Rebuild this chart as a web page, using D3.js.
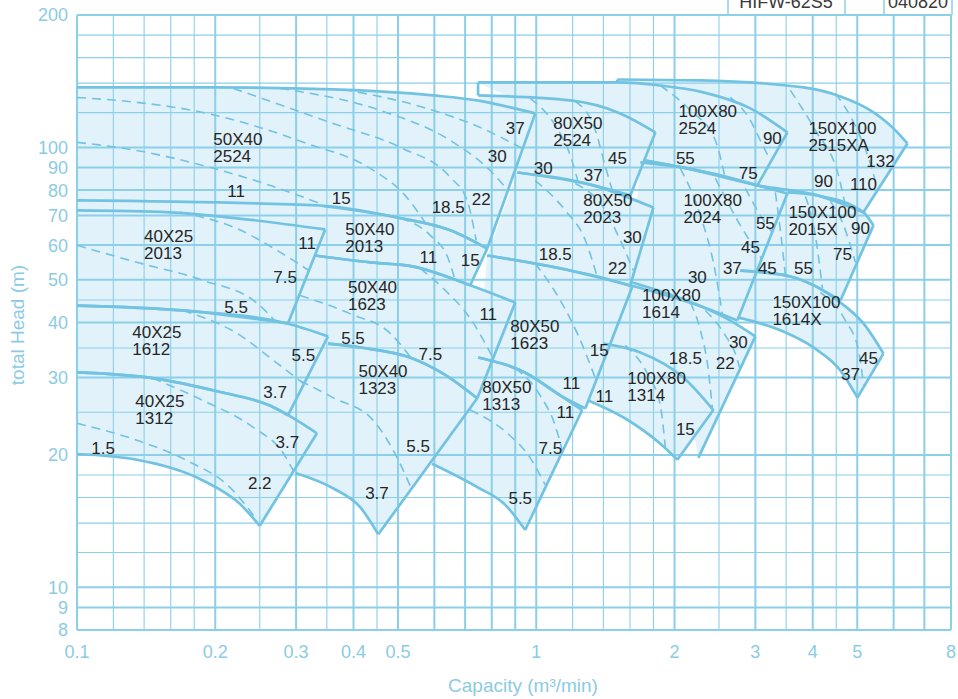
<!DOCTYPE html>
<html>
<head>
<meta charset="utf-8">
<script src="https://cdn.jsdelivr.net/npm/d3@7"></script>
<style>
  body { margin: 0; background: #fff; }
  svg text { font-family: "Liberation Sans", Arial, sans-serif; }
</style>
</head>
<body>
<svg id="canvas" width="958" height="699"></svg>
<script>
// axes
let xGrid = [0.1, 0.12, 0.14, 0.16, 0.18, 0.2, 0.25, 0.3, 0.35, 0.4, 0.45, 0.5, 0.6, 0.7, 0.8, 0.9, 1, 1.2, 1.4, 1.6, 1.8, 2, 2.5, 3, 3.5, 4, 4.5, 5, 6, 7, 8]
let yGrid = [8, 9, 10, 12, 14, 16, 18, 20, 25, 30, 35, 40, 45, 50, 60, 70, 80, 90, 100, 120, 140, 160, 180, 200]
let xTicks = [0.1, 0.2, 0.3, 0.4, 0.5, 1, 2, 3, 4, 5, 8]
let yTicks = [8, 9, 10, 20, 30, 40, 50, 60, 70, 80, 90, 100, 200]
let xMajor = [0.1, 0.2, 0.3, 0.4, 0.5, 0.6, 0.7, 0.8, 0.9, 1, 2, 3, 4, 5, 6, 7, 8]

// pump models, one entry per tile
let models = [
  ["40X25", "1312"], ["40X25", "1612"], ["40X25", "2013"],
  ["50X40", "1323"], ["50X40", "1623"], ["50X40", "2013"], ["50X40", "2524"],
  ["80X50", "1313"], ["80X50", "1623"], ["80X50", "2023"], ["80X50", "2524"],
  ["100X80", "2524"], ["150X100", "2515XA"], ["100X80", "2024"],
  ["150X100", "2015X"], ["150X100", "1614X"], ["100X80", "1614"], ["100X80", "1314"]
]

// [capacity m3/min, head m] at top of each name label
let modelSpots = [
  [0.134, 26.6], [0.132, 38.0], [0.14, 62.8],
  [0.41, 31.1], [0.389, 48.1], [0.384, 65.4], [0.198, 104.8],
  [0.763, 28.5], [0.878, 39.2], [1.266, 75.8], [1.089, 114.0],
  [2.04, 121.4], [3.914, 111.0], [2.091, 75.8],
  [3.54, 71.5], [3.267, 44.6], [1.7, 46.3], [1.579, 30.0]
]

// max impeller curves
let tops = [
  [[0.1, 30.8], [0.146, 29.9], [0.205, 27.8], [0.263, 25.9], [0.333, 22.4]],
  [[0.1, 43.7], [0.17, 42.6], [0.287, 39.8], [0.352, 37.2]],
  [[0.1, 71.9], [0.159, 71.2], [0.223, 69.0], [0.347, 65.1]],
  [[0.352, 35.8], [0.414, 35.1], [0.531, 33.3], [0.627, 30.6], [0.744, 26.9]],
  [[0.33, 56.8], [0.435, 54.8], [0.54, 53.6], [0.718, 48.6], [0.9, 44.4]],
  [[0.342, 73.6], [0.498, 69.3], [0.65, 64.8], [0.782, 58.9]],
  [[0.1, 136.9], [0.198, 136.9], [0.361, 135.5], [0.596, 131.3], [0.744, 127.9], [0.878, 123.3], [0.995, 119.5]],
  [[0.747, 33.3], [0.956, 30.6], [1.128, 27.3], [1.259, 25.3]],
  [[0.782, 56.8], [1.128, 53.1], [1.379, 50.7], [1.619, 48.3]],
  [[0.909, 87.7], [1.331, 82.0], [1.799, 73.0]],
  [[0.747, 131.3], [1.186, 127.9], [1.524, 119.5], [1.817, 108.2]],
  [[0.747, 140.5], [1.502, 140.5], [1.863, 138.3], [2.312, 133.4], [2.926, 122.7], [3.522, 108.2]],
  [[1.502, 142.7], [2.277, 142.0], [3.817, 136.9], [4.596, 130.6], [5.342, 121.4], [5.995, 110.5], [6.43, 102.1]],
  [[1.685, 92.5], [2.091, 90.0], [3.03, 82.0], [3.522, 78.6]],
  [[3.522, 79.0], [4.094, 77.8], [5.158, 71.2], [5.423, 66.5]],
  [[2.783, 52.5], [3.576, 50.9], [4.596, 44.4], [5.158, 39.8], [5.702, 34.0]],
  [[1.619, 49.3], [1.958, 46.3], [2.312, 43.3], [2.646, 40.4], [3.0, 37.2]],
  [[1.4, 35.8], [1.685, 34.2], [2.091, 30.0], [2.43, 25.3]]
]

// min impeller curves
let bottoms = [
  [[0.1, 20.1], [0.135, 19.5], [0.188, 17.5], [0.226, 15.5], [0.25, 13.8]],
  [[0.1, 30.8], [0.146, 29.9], [0.205, 27.8], [0.263, 25.9], [0.288, 24.6]],
  [[0.1, 43.7], [0.17, 42.6], [0.288, 39.8]],
  [[0.299, 18.2], [0.361, 16.8], [0.414, 15.2], [0.453, 13.2]],
  [[0.352, 35.8], [0.414, 35.1], [0.531, 33.3], [0.627, 30.6], [0.744, 26.9]],
  [[0.33, 56.8], [0.435, 54.8], [0.54, 53.6], [0.718, 48.6]],
  [[0.1, 75.8], [0.338, 73.8], [0.498, 69.3], [0.65, 64.8], [0.782, 58.9]],
  [[0.593, 19.1], [0.744, 16.9], [0.856, 15.4], [0.946, 13.5]],
  [[0.747, 33.3], [0.956, 30.6], [1.128, 27.3], [1.279, 25.5]],
  [[0.782, 56.8], [1.128, 53.1], [1.602, 48.6]],
  [[0.909, 87.7], [1.331, 82.0], [1.602, 77.8]],
  [[1.728, 93.4], [2.091, 90.0], [2.517, 86.4], [3.03, 82.0]],
  [[1.728, 93.4], [2.091, 90.0], [3.03, 82.0], [4.094, 77.8], [5.158, 71.2]],
  [[1.602, 48.6], [2.312, 43.3], [2.741, 40.4]],
  [[2.783, 52.5], [3.576, 50.9], [4.596, 44.9]],
  [[2.741, 41.1], [3.401, 38.4], [4.013, 35.1], [4.596, 31.1], [5.005, 27.0]],
  [[1.4, 35.8], [1.863, 29.5], [2.166, 24.0], [2.254, 19.7]],
  [[1.298, 26.6], [1.563, 24.2], [1.863, 21.2], [2.029, 19.5]]
]
let hiddenBottoms = [16]

// extra corner points that close a tile against its neighbours [tile, points]
let leftSides = [
  [3, [[0.288, 24.6], [0.352, 37.2]]],
  [4, [[0.288, 39.8]]],
  [5, [[0.1, 71.9], [0.1, 75.8]]]
]

// motor power limits
let dashes = [
  [[[0.1, 23.6], [0.135, 21.6], [0.174, 19.4], [0.215, 16.9], [0.247, 14.2]],
   [[0.146, 29.9], [0.188, 26.6], [0.242, 23.1], [0.281, 20.2], [0.296, 18.4]]],
  [[[0.17, 42.6], [0.223, 37.8], [0.273, 32.3], [0.311, 29.1]]],
  [[[0.1, 59.9], [0.135, 54.8], [0.188, 49.9], [0.247, 44.2], [0.27, 40.3]],
   [[0.168, 71.2], [0.223, 65.4], [0.273, 58.3], [0.32, 52.5]]],
  [[[0.306, 29.5], [0.361, 27.0], [0.441, 24.0], [0.498, 19.7], [0.537, 16.6]]],
  [[[0.306, 46.1], [0.393, 41.9], [0.481, 37.8], [0.531, 33.5]],
   [[0.559, 53.1], [0.634, 47.3], [0.718, 40.9], [0.802, 33.5]]],
  [[[0.506, 69.0], [0.588, 63.1], [0.643, 55.9], [0.666, 49.9]]],
  [[[0.1, 129.9], [0.135, 126.6], [0.188, 120.1], [0.242, 112.2], [0.311, 102.7], [0.435, 89.6], [0.518, 77.8], [0.573, 67.5]],
   [[0.1, 102.7], [0.135, 98.4], [0.188, 91.0], [0.263, 82.0], [0.338, 74.6]],
   [[0.219, 136.2], [0.361, 113.4], [0.506, 100.0], [0.65, 85.5], [0.707, 75.8], [0.74, 61.5]],
   [[0.277, 136.2], [0.457, 121.4], [0.65, 103.7], [0.794, 88.6], [0.869, 79.8]],
   [[0.38, 135.5], [0.559, 123.9], [0.755, 111.0], [0.932, 99.5]]],
  [[[0.718, 25.3], [0.865, 22.4], [0.97, 19.7], [1.046, 17.1]],
   [[0.9, 31.5], [1.02, 27.3], [1.1, 23.3], [1.139, 20.5]]],
  [[[0.995, 54.5], [1.128, 44.9], [1.234, 37.4], [1.351, 29.5]]],
  [[[0.995, 84.1], [1.157, 71.9], [1.279, 61.5], [1.358, 50.7]],
   [[1.216, 82.8], [1.414, 71.9], [1.524, 61.5], [1.627, 52.5]]],
  [[[0.97, 129.2], [1.1, 112.2], [1.186, 95.9], [1.234, 83.3]],
   [[1.216, 127.2], [1.345, 109.3], [1.414, 90.5], [1.464, 79.8]]],
  [[[1.863, 138.3], [2.166, 121.4], [2.455, 103.7], [2.58, 85.0]],
   [[2.646, 129.9], [2.926, 115.2], [3.076, 103.7], [3.234, 93.4]]],
  [[[3.576, 134.8], [4.053, 109.3], [4.55, 86.4], [4.712, 73.8]],
   [[4.482, 132.7], [5.005, 109.3], [5.396, 88.6], [5.533, 80.3]]],
  [[[2.059, 89.6], [2.277, 70.1], [2.455, 52.0], [2.542, 41.9]],
   [[2.455, 85.0], [2.783, 66.5], [3.092, 55.9]],
   [[2.853, 80.7], [3.076, 70.1], [3.267, 64.1]]],
  [[[3.316, 79.0], [3.401, 64.8], [3.487, 51.2]],
   [[3.855, 77.4], [4.053, 63.1], [4.199, 47.8]],
   [[4.371, 75.4], [4.642, 67.5], [4.955, 54.8]]],
  [[[4.157, 46.8], [4.712, 40.4], [5.03, 34.6], [5.158, 28.9]]],
  [[[2.166, 44.4], [2.277, 38.4], [2.37, 31.1], [2.418, 25.5]],
   [[2.335, 42.6], [2.58, 37.4], [2.727, 33.5], [2.783, 31.1]]],
  [[[1.563, 35.5], [1.754, 30.3], [1.863, 25.9], [1.91, 20.8]]]
]

// motor kW labels [capacity, head, text]
let powerLabels = [
  [0.114, 20.7, "1.5"], [0.25, 17.3, "2.2"], [0.287, 21.4, "3.7"],
  [0.27, 27.8, "3.7"], [0.311, 33.7, "5.5"],
  [0.222, 43.3, "5.5"], [0.284, 50.7, "7.5"], [0.317, 60.8, "11"],
  [0.45, 16.4, "3.7"], [0.553, 21.0, "5.5"],
  [0.399, 37.0, "5.5"], [0.588, 34.0, "7.5"], [0.786, 41.9, "11"],
  [0.582, 56.5, "11"], [0.718, 55.4, "15"],
  [0.222, 79.8, "11"], [0.376, 76.6, "15"], [0.643, 73.4, "18.5"], [0.759, 76.2, "22"], [0.822, 95.9, "30"], [0.9, 111.0, "37"],
  [0.923, 16.0, "5.5"], [1.073, 20.8, "7.5"], [1.157, 25.0, "11"],
  [1.192, 29.1, "11"], [1.372, 34.6, "15"],
  [1.1, 57.4, "18.5"], [1.502, 53.1, "22"], [1.619, 62.5, "30"],
  [1.036, 90.0, "30"], [1.331, 86.4, "37"], [1.502, 94.9, "45"],
  [2.112, 94.9, "55"], [2.896, 87.7, "75"], [3.267, 105.4, "90"],
  [4.22, 84.1, "90"], [5.158, 82.8, "110"], [5.617, 93.4, "132"],
  [2.243, 50.7, "30"], [2.673, 53.1, "37"], [2.926, 59.3, "45"], [3.154, 67.5, "55"],
  [3.186, 53.1, "45"], [3.817, 53.1, "55"], [4.642, 57.4, "75"], [5.081, 65.8, "90"],
  [4.832, 30.6, "37"], [5.289, 33.3, "45"],
  [2.112, 33.2, "18.5"], [2.58, 32.3, "22"], [2.755, 36.1, "30"],
  [1.407, 27.2, "11"], [2.112, 22.9, "15"]
]

// short vertical steps at the left of two top tiles
let frameEdges = [
  [[0.747, 140.5], [0.747, 131.3]],
  [[1.502, 142.7], [1.502, 140.5]]
]

const blue = "#72c3e2"
const gridBlue = "#8ccfe9"
const fillBlue = "#e1f2fa"
const tickBlue = "#8ccbe3"
const ink = "#262626"

let x = d3.scaleLog().domain([0.1, 8]).range([77, 951])
let y = d3.scaleLog().domain([8, 200]).range([630, 15])

let canvas = d3.select("#canvas")

let curve = d3.line()
  .x(d => x(d[0]))
  .y(d => y(d[1]))
  .curve(d3.curveMonotoneX)

let straight = d3.line()
  .x(d => x(d[0]))
  .y(d => y(d[1]))

// tile fills
canvas.append("g")
  .selectAll("path")
  .data(tops)
  .enter()
  .append("path")
  .attr("d", (top, i) => {
    let back = bottoms[i].slice().reverse()
    let d = curve(top) + "L" + curve(back).slice(1)
    let side = leftSides.find(s => s[0] === i)
    if (side) {
      d += "L" + straight(side[1]).slice(1)
    }
    return d + "Z"
  })
  .attr("fill", fillBlue)

// grid
canvas.append("g")
  .selectAll("line")
  .data(xGrid)
  .enter()
  .append("line")
  .attr("x1", d => x(d))
  .attr("x2", d => x(d))
  .attr("y1", y(8))
  .attr("y2", y(200))
  .attr("stroke", gridBlue)
  .attr("stroke-width", d => xMajor.includes(d) ? 2 : 1.1)

canvas.append("g")
  .selectAll("line")
  .data(yGrid)
  .enter()
  .append("line")
  .attr("x1", x(0.1))
  .attr("x2", x(8))
  .attr("y1", d => y(d))
  .attr("y2", d => y(d))
  .attr("stroke", gridBlue)
  .attr("stroke-width", d => yTicks.includes(d) ? 2 : 1.1)

// power limits
let dashLayer = canvas.append("g")
dashes.forEach(group => {
  dashLayer.selectAll(null)
    .data(group)
    .enter()
    .append("path")
    .attr("d", curve)
    .attr("fill", "none")
    .attr("stroke", blue)
    .attr("stroke-width", 1.6)
    .attr("stroke-dasharray", "9,6")
})

// tile outlines
let edges = canvas.append("g")
  .attr("fill", "none")
  .attr("stroke", blue)
  .attr("stroke-width", 2.7)
  .attr("stroke-linejoin", "round")

edges.selectAll(".top")
  .data(tops)
  .enter()
  .append("path")
  .attr("class", "top")
  .attr("d", curve)

edges.selectAll(".bottom")
  .data(bottoms.filter((b, i) => !hiddenBottoms.includes(i)))
  .enter()
  .append("path")
  .attr("class", "bottom")
  .attr("d", curve)

edges.selectAll(".side")
  .data(tops.map((top, i) => [top[top.length - 1], bottoms[i][bottoms[i].length - 1]]))
  .enter()
  .append("path")
  .attr("class", "side")
  .attr("d", straight)

edges.selectAll(".frame")
  .data(frameEdges)
  .enter()
  .append("path")
  .attr("class", "frame")
  .attr("d", straight)

// tick labels
canvas.append("g")
  .selectAll("text")
  .data(yTicks)
  .enter()
  .append("text")
  .attr("x", 68)
  .attr("y", d => y(d))
  .attr("dy", "0.36em")
  .attr("text-anchor", "end")
  .attr("font-size", 18)
  .attr("fill", tickBlue)
  .text(d => d)

canvas.append("g")
  .selectAll("text")
  .data(xTicks)
  .enter()
  .append("text")
  .attr("x", d => x(d))
  .attr("y", 652)
  .attr("dy", "0.36em")
  .attr("text-anchor", "middle")
  .attr("font-size", 18)
  .attr("fill", tickBlue)
  .text(d => d)

canvas.append("text")
  .attr("transform", "translate(24,325) rotate(-90)")
  .attr("text-anchor", "middle")
  .attr("font-size", 19)
  .attr("fill", tickBlue)
  .text("total Head (m)")

canvas.append("text")
  .attr("x", 523)
  .attr("y", 692)
  .attr("text-anchor", "middle")
  .attr("font-size", 19)
  .attr("fill", tickBlue)
  .text("Capacity (m³/min)")

// model names
let names = canvas.append("g")
  .attr("font-size", 17)
  .attr("fill", ink)

names.selectAll("text")
  .data(models)
  .enter()
  .append("text")
  .attr("x", (d, i) => x(modelSpots[i][0]))
  .attr("y", (d, i) => y(modelSpots[i][1]))
  .attr("dy", "0.36em")
  .each(function (d) {
    d3.select(this).append("tspan").text(d[0])
    d3.select(this).append("tspan")
      .attr("x", d3.select(this).attr("x"))
      .attr("dy", 17)
      .text(d[1])
  })

// kW labels
canvas.append("g")
  .attr("font-size", 17)
  .attr("fill", ink)
  .attr("text-anchor", "middle")
  .selectAll("text")
  .data(powerLabels)
  .enter()
  .append("text")
  .attr("x", d => x(d[0]))
  .attr("y", d => y(d[1]))
  .attr("dy", "0.36em")
  .text(d => d[2])

// title block, cut by the top edge
let block = canvas.append("g")
block.selectAll("line")
  .data([728, 845, 884, 952])
  .enter()
  .append("line")
  .attr("x1", d => d)
  .attr("x2", d => d)
  .attr("y1", 0)
  .attr("y2", y(200))
  .attr("stroke", gridBlue)
  .attr("stroke-width", 1.5)

block.selectAll("text")
  .data([["HIFW-62S5", 786], ["040820", 918]])
  .enter()
  .append("text")
  .attr("x", d => d[1])
  .attr("y", 8)
  .attr("text-anchor", "middle")
  .attr("font-size", 18)
  .attr("fill", "#3a3a3a")
  .text(d => d[0])
</script>
</body>
</html>
